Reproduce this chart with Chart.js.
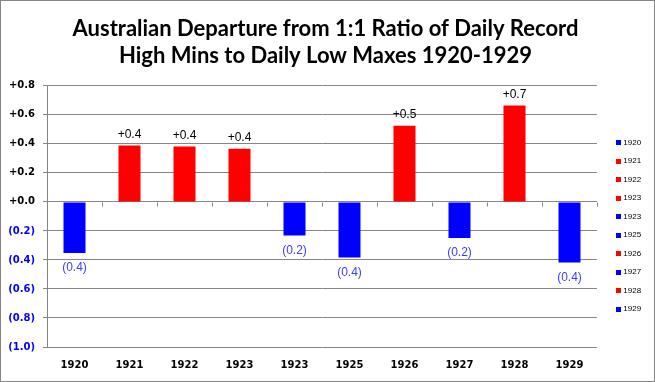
<!DOCTYPE html>
<html>
<head>
<meta charset="utf-8">
<script src="https://cdn.jsdelivr.net/npm/chart.js@4.4.0/dist/chart.umd.min.js"></script>
<style>
  html, body { margin: 0; padding: 0; background: #ffffff; }
  #wrap { width: 653px; height: 380px; border: 1px solid #868686; position: relative; background: #fff; }
</style>
</head>
<body>
<div id="wrap"><canvas id="c"></canvas></div>
<script>
// ---- data ----
const categories = ['1920', '1921', '1922', '1923', '1923', '1925', '1926', '1927', '1928', '1929'];
const departures = [-0.352, 0.388, 0.381, 0.367, -0.232, -0.384, 0.524, -0.248, 0.664, -0.418];
const titleLines = ['Australian Departure from 1:1 Ratio of Daily Record', 'High Mins to Daily Low Maxes 1920-1929'];
const yMin = -1.0, yMax = 0.8, yStep = 0.2;

const POS = '#ff0000', NEG = '#0000ff';
const barColors = departures.map(v => v >= 0 ? POS : NEG);

function fmt(v) {
  const r = Math.round(v * 10) / 10;
  return r >= 0 ? '+' + r.toFixed(1) : '(' + (-r).toFixed(1) + ')';
}

const zeroTicks = {
  id: 'zeroTicks',
  beforeDatasetsDraw(chart) {
    const { ctx, chartArea, scales } = chart;
    const y0 = Math.round(scales.y.getPixelForValue(0)) + 0.5;
    const n = categories.length;
    const w = (chartArea.right - chartArea.left) / n;
    ctx.save();
    ctx.strokeStyle = '#868686';
    ctx.lineWidth = 1;
    ctx.beginPath();
    for (let i = 1; i <= n; i++) {
      const x = Math.round(chartArea.left + i * w) + 0.5;
      ctx.moveTo(x, y0);
      ctx.lineTo(x, y0 + 4);
    }
    ctx.stroke();
    ctx.restore();
  }
};

const valueLabels = {
  id: 'valueLabels',
  afterDatasetsDraw(chart) {
    const { ctx } = chart;
    const meta = chart.getDatasetMeta(0);
    ctx.save();
    ctx.font = '12px "Liberation Sans", Arial, sans-serif';
    ctx.textAlign = 'center';
    ctx.textBaseline = 'middle';
    meta.data.forEach((el, i) => {
      const v = departures[i];
      if (v >= 0) {
        ctx.fillStyle = '#000000';
        ctx.fillText(fmt(v), el.x, el.y - 11);
      } else {
        ctx.fillStyle = '#3c3cff';
        ctx.fillText(fmt(v), el.x, el.y + 15);
      }
    });
    ctx.restore();
  }
};

const sideLegend = {
  id: 'sideLegend',
  afterDraw(chart) {
    const { ctx } = chart;
    ctx.save();
    ctx.font = '8px "Liberation Sans", Arial, sans-serif';
    ctx.textAlign = 'left';
    ctx.textBaseline = 'middle';
    categories.forEach((lab, i) => {
      const cy = 141.7 + i * 18.5;
      ctx.fillStyle = barColors[i];
      ctx.fillRect(615, Math.round(cy - 2.5), 5, 5);
      ctx.fillStyle = '#000000';
      ctx.fillText(lab, 622.3, cy);
    });
    ctx.restore();
  }
};

new Chart(document.getElementById('c'), {
  type: 'bar',
  data: {
    labels: categories,
    datasets: [{
      label: 'Departure',
      data: departures,
      backgroundColor: barColors,
      borderWidth: 0,
      barPercentage: 0.4,
      categoryPercentage: 1.0
    }]
  },
  options: {
    responsive: true,
    maintainAspectRatio: false,
    animation: false,
    devicePixelRatio: 1,
    layout: { padding: { left: 0, right: 4, top: 0, bottom: 10 } },
    plugins: {
      legend: { display: false },
      tooltip: { enabled: false },
      title: {
        display: true,
        text: titleLines,
        color: '#000000',
        font: { family: 'Lato, "Open Sans", sans-serif', weight: 'bold', size: 22, lineHeight: 1.2 },
        padding: { top: 15, bottom: 17 }
      }
    },
    scales: {
      x: {
        grid: { display: false, drawTicks: false },
        border: { display: false },
        ticks: {
          padding: 12,
          maxRotation: 0,
          color: '#000000',
          font: { family: '"DejaVu Sans", sans-serif', weight: 'bold', size: 10 }
        },
        afterFit: s => { s.height = 24; }
      },
      y: {
        min: yMin,
        max: yMax,
        ticks: {
          stepSize: yStep,
          padding: 8,
          color: c => (c.tick && c.tick.value < -1e-9) ? '#0000ff' : '#000000',
          font: { family: '"DejaVu Sans", sans-serif', weight: 'bold', size: 10 },
          callback: v => fmt(v)
        },
        grid: { color: '#868686', lineWidth: 1, tickLength: 4 },
        border: { color: '#868686' },
        afterFit: s => { s.width = 46; }
      },
      yRight: {
        type: 'linear',
        position: 'right',
        display: true,
        grid: { display: false, drawTicks: false },
        border: { display: false },
        ticks: { display: false },
        afterFit: s => { s.width = 53; }
      }
    }
  },
  plugins: [zeroTicks, valueLabels, sideLegend]
});
</script>
</body>
</html>
